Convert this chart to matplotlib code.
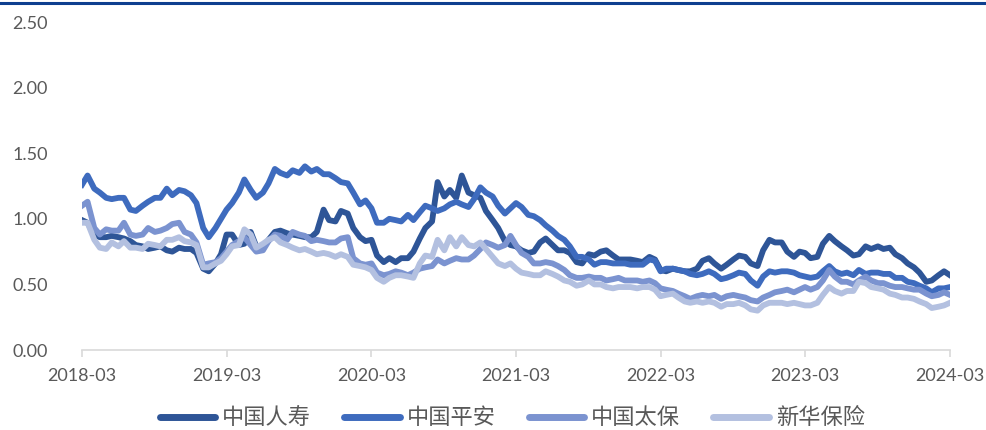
import matplotlib
matplotlib.use("Agg")
import matplotlib.pyplot as plt
import matplotlib.dates as mdates
from matplotlib.lines import Line2D
import pandas as pd

plt.rcParams['font.family'] = ['Lato', 'DejaVu Sans']

# 半月一个点，2018-03 至 2024-03
dates = pd.date_range('2018-03-01', '2024-03-01', freq='SMS')

names = ['中国人寿', '中国平安', '中国太保', '新华保险']
colors = ['#2E5597', '#3E6BBE', '#7B93D0', '#B3C0E0']

renshou = [0.99, 0.97, 0.88, 0.86, 0.86, 0.87, 0.86, 0.85, 0.83, 0.80,
           0.79, 0.77, 0.78, 0.79, 0.76, 0.75, 0.78, 0.77, 0.77, 0.74,
           0.62, 0.60, 0.66, 0.73, 0.88, 0.88, 0.80, 0.81, 0.90, 0.79,
           0.78, 0.84, 0.90, 0.91, 0.89, 0.88, 0.87, 0.86, 0.86, 0.90,
           1.07, 0.99, 0.98, 1.06, 1.04, 0.93, 0.86, 0.83, 0.84, 0.72,
           0.67, 0.70, 0.67, 0.70, 0.70, 0.75, 0.85, 0.93, 0.98, 1.28,
           1.17, 1.22, 1.16, 1.33, 1.20, 1.18, 1.16, 1.06, 0.99, 0.93,
           0.83, 0.80, 0.79, 0.76, 0.74, 0.75, 0.82, 0.85, 0.80, 0.76,
           0.76, 0.74, 0.67, 0.66, 0.73, 0.72, 0.75, 0.76, 0.72, 0.69,
           0.69, 0.69, 0.68, 0.67, 0.71, 0.69, 0.61, 0.60, 0.62, 0.61,
           0.60, 0.60, 0.62, 0.68, 0.70, 0.66, 0.62, 0.65, 0.69, 0.72,
           0.71, 0.66, 0.64, 0.76, 0.84, 0.82, 0.82, 0.75, 0.71, 0.75,
           0.74, 0.70, 0.71, 0.81, 0.87, 0.83, 0.79, 0.76, 0.72, 0.73,
           0.79, 0.77, 0.79, 0.77, 0.78, 0.73, 0.70, 0.66, 0.63, 0.59,
           0.52, 0.53, 0.57, 0.60, 0.57]

pingan = [1.26, 1.33, 1.23, 1.20, 1.16, 1.15, 1.16, 1.16, 1.07, 1.06,
          1.10, 1.13, 1.16, 1.16, 1.23, 1.18, 1.22, 1.21, 1.18, 1.12,
          0.93, 0.86, 0.93, 1.00, 1.07, 1.12, 1.20, 1.30, 1.22, 1.16,
          1.20, 1.27, 1.38, 1.35, 1.33, 1.37, 1.35, 1.40, 1.36, 1.38,
          1.34, 1.34, 1.31, 1.28, 1.27, 1.20, 1.11, 1.14, 1.08, 0.97,
          0.97, 1.00, 0.99, 0.98, 1.03, 0.99, 1.05, 1.10, 1.08, 1.06,
          1.08, 1.11, 1.13, 1.11, 1.09, 1.15, 1.24, 1.20, 1.17, 1.10,
          1.04, 1.08, 1.12, 1.09, 1.03, 1.02, 0.99, 0.95, 0.91, 0.87,
          0.84, 0.79, 0.71, 0.71, 0.69, 0.65, 0.67, 0.67, 0.66, 0.66,
          0.66, 0.65, 0.65, 0.65, 0.69, 0.68, 0.60, 0.62, 0.62, 0.61,
          0.60, 0.58, 0.57, 0.58, 0.60, 0.58, 0.54, 0.55, 0.57, 0.59,
          0.58, 0.53, 0.49, 0.56, 0.60, 0.59, 0.60, 0.60, 0.59, 0.57,
          0.56, 0.55, 0.56, 0.60, 0.64, 0.60, 0.58, 0.59, 0.57, 0.61,
          0.58, 0.59, 0.59, 0.58, 0.58, 0.55, 0.55, 0.52, 0.51, 0.49,
          0.47, 0.44, 0.47, 0.47, 0.48]

taibao = [1.10, 1.13, 0.93, 0.88, 0.92, 0.91, 0.91, 0.97, 0.88, 0.87,
          0.88, 0.93, 0.90, 0.91, 0.93, 0.96, 0.97, 0.90, 0.88, 0.82,
          0.65, 0.66, 0.67, 0.70, 0.75, 0.80, 0.83, 0.86, 0.80, 0.75,
          0.76, 0.83, 0.88, 0.87, 0.84, 0.90, 0.88, 0.87, 0.83, 0.84,
          0.83, 0.82, 0.82, 0.85, 0.86, 0.70, 0.66, 0.65, 0.66, 0.59,
          0.57, 0.58, 0.60, 0.59, 0.57, 0.59, 0.62, 0.63, 0.64, 0.69,
          0.66, 0.68, 0.70, 0.69, 0.69, 0.72, 0.77, 0.82, 0.80, 0.78,
          0.80, 0.87, 0.80, 0.74, 0.71, 0.66, 0.66, 0.67, 0.66, 0.64,
          0.61, 0.57, 0.55, 0.55, 0.56, 0.55, 0.55, 0.53, 0.54, 0.55,
          0.53, 0.53, 0.53, 0.52, 0.53, 0.51, 0.47, 0.46, 0.45, 0.43,
          0.41, 0.39, 0.41, 0.42, 0.41, 0.42, 0.39, 0.41, 0.42, 0.41,
          0.40, 0.38, 0.37, 0.40, 0.42, 0.44, 0.45, 0.46, 0.44, 0.46,
          0.48, 0.46, 0.48, 0.53, 0.61, 0.56, 0.52, 0.52, 0.50, 0.53,
          0.56, 0.53, 0.51, 0.51, 0.49, 0.48, 0.48, 0.47, 0.46, 0.46,
          0.43, 0.41, 0.42, 0.44, 0.42]

xinhua = [0.97, 0.97, 0.84, 0.78, 0.77, 0.82, 0.79, 0.83, 0.78, 0.78,
          0.77, 0.81, 0.80, 0.79, 0.84, 0.84, 0.86, 0.83, 0.82, 0.80,
          0.63, 0.63, 0.66, 0.68, 0.73, 0.79, 0.80, 0.92, 0.88, 0.78,
          0.81, 0.84, 0.86, 0.82, 0.80, 0.78, 0.76, 0.77, 0.75, 0.73,
          0.74, 0.73, 0.71, 0.73, 0.71, 0.65, 0.64, 0.63, 0.61, 0.55,
          0.52, 0.55, 0.57, 0.57, 0.56, 0.55, 0.66, 0.72, 0.71, 0.84,
          0.76, 0.86, 0.79, 0.86, 0.80, 0.79, 0.82, 0.77, 0.71, 0.66,
          0.64, 0.66, 0.62, 0.59, 0.58, 0.57, 0.57, 0.60, 0.58, 0.56,
          0.53, 0.52, 0.49, 0.50, 0.53, 0.50, 0.50, 0.48, 0.47, 0.48,
          0.48, 0.48, 0.47, 0.48, 0.48, 0.46, 0.41, 0.42, 0.43, 0.40,
          0.37, 0.36, 0.37, 0.36, 0.37, 0.36, 0.33, 0.35, 0.35, 0.36,
          0.34, 0.31, 0.30, 0.34, 0.36, 0.36, 0.36, 0.35, 0.36, 0.35,
          0.34, 0.34, 0.36, 0.42, 0.48, 0.45, 0.43, 0.45, 0.45, 0.52,
          0.51, 0.48, 0.47, 0.46, 0.43, 0.42, 0.40, 0.40, 0.39, 0.37,
          0.35, 0.32, 0.33, 0.34, 0.36]

series = [renshou, pingan, taibao, xinhua]

fig = plt.figure(figsize=(9.87, 4.30), dpi=100)
ax = fig.add_axes([0.0831, 0.186, 0.8794, 0.7628])

for name, vals, c in zip(names, series, colors):
    ax.plot(dates, vals, color=c, lw=4.2, label=name, solid_joinstyle='round')

ax.set_ylim(0, 2.5)
ax.set_yticks([0, 0.5, 1.0, 1.5, 2.0, 2.5])
ax.set_yticklabels(['%.2f' % v for v in [0, 0.5, 1.0, 1.5, 2.0, 2.5]])
ax.set_xlim(pd.Timestamp('2018-03-01'), pd.Timestamp('2024-03-01'))
ax.set_xticks(pd.date_range('2018-03-01', '2024-03-01', freq='12MS'))
ax.xaxis.set_major_formatter(mdates.DateFormatter('%Y-%m'))

for s in ['left', 'right', 'top']:
    ax.spines[s].set_visible(False)
ax.spines['bottom'].set_color('#D9D9D9')
ax.spines['bottom'].set_linewidth(1.2)
ax.tick_params(axis='x', colors='#D9D9D9', length=5, width=1.2, pad=8,
               labelcolor='#595959', labelsize=13)
ax.tick_params(axis='y', length=0, pad=50, labelcolor='#595959', labelsize=13)
for t in ax.get_yticklabels():
    t.set_horizontalalignment('left')

leg = ax.legend(loc='center', bbox_to_anchor=(0.519, 0.028),
                bbox_transform=fig.transFigure, ncol=4, frameon=False,
                prop={'family': ['Noto Sans CJK SC', 'DejaVu Sans'], 'size': 16},
                handlelength=2.5, handletextpad=0.3, columnspacing=1.5)
for t in leg.get_texts():
    t.set_color('#595959')
for h in leg.get_lines():
    h.set_linewidth(5)
    h.set_solid_capstyle('round')

# 顶部深蓝色横线
fig.add_artist(Line2D([0, 1], [1 - 3 / 430, 1 - 3 / 430], color='#0E3F8F', lw=2.2,
                      transform=fig.transFigure))

fig.savefig('out.png', dpi=100)
